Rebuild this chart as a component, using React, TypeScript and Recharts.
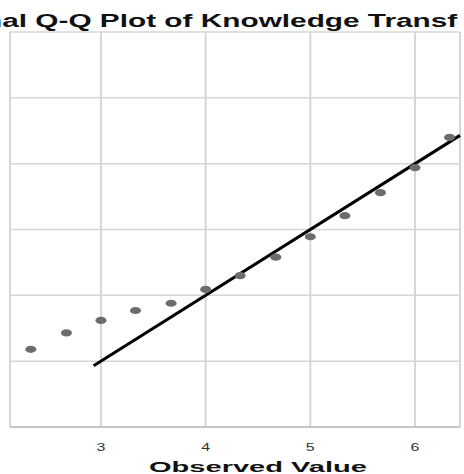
import { ScatterChart, Scatter, XAxis, YAxis, CartesianGrid, ReferenceLine } from 'recharts';

// observed scores (x) against expected normal values (y)
const observed = [2.33, 2.67, 3.0, 3.33, 3.67, 4.0, 4.33, 4.67, 5.0, 5.33, 5.67, 6.0, 6.33];
const expected = [3.18, 3.43, 3.62, 3.77, 3.88, 4.09, 4.3, 4.58, 4.89, 5.21, 5.56, 5.94, 6.4];
const xTicks = [3, 4, 5, 6];
const yTicks = [2, 3, 4, 5, 6, 7, 8];
const fitLine = [2.93, 6.43];

const points = observed.map((x, i) => ({ x, y: expected[i] }));

const FONT = '"Liberation Sans", Arial, sans-serif';

const Dot = (props: any) => (
  <ellipse cx={props.cx} cy={props.cy} rx={5.5} ry={3.6} fill="#6c6c6c" />
);

const Tick = ({ x, y, payload }: any) => (
  <g transform={`translate(${x},${y + 12}) scale(1.6,1)`}>
    <text textAnchor="middle" dy="0.36em" fontSize={10} fontFamily={FONT} fill="#333">
      {payload.value}
    </text>
  </g>
);

export default function App() {
  return (
    <div style={{ position: 'absolute', left: 0, top: 0 }}>
      <ScatterChart width={464} height={474} margin={{ top: 32, right: 4, bottom: 0, left: 10 }}>
        <defs>
          <clipPath id="title-clip">
            <rect x={0} y={0} width={458} height={32} />
          </clipPath>
        </defs>
        <CartesianGrid vertical={false} stroke="#d6d6d6" strokeWidth={1.5} />
        <CartesianGrid horizontal={false} stroke="#d6d6d6" strokeWidth={2} />
        <XAxis
          type="number"
          dataKey="x"
          domain={[2.131, 6.43]}
          ticks={xTicks}
          allowDataOverflow
          height={47}
          tickLine={false}
          axisLine={{ stroke: '#bdbdbd', strokeWidth: 1.5 }}
          tick={<Tick />}
        />
        <YAxis type="number" dataKey="y" domain={[2, 8]} ticks={yTicks} hide />
        <Scatter data={points} fill="#6c6c6c" shape={<Dot />} isAnimationActive={false} />
        <ReferenceLine
          segment={[
            { x: fitLine[0], y: fitLine[0] },
            { x: fitLine[1], y: fitLine[1] },
          ]}
          stroke="#000"
          strokeWidth={3}
        />
        <text
          x={-75.6}
          y={27}
          fontSize={18}
          fontWeight="bold"
          fontFamily={FONT}
          textLength={561}
          lengthAdjust="spacingAndGlyphs"
          fill="#111"
          clipPath="url(#title-clip)"
        >
          Normal Q-Q Plot of Knowledge Transfer
        </text>
        <text
          x={149}
          y={472}
          fontSize={15.5}
          fontWeight="bold"
          fontFamily={FONT}
          textLength={218}
          lengthAdjust="spacingAndGlyphs"
          fill="#111"
        >
          Observed Value
        </text>
      </ScatterChart>
    </div>
  );
}
